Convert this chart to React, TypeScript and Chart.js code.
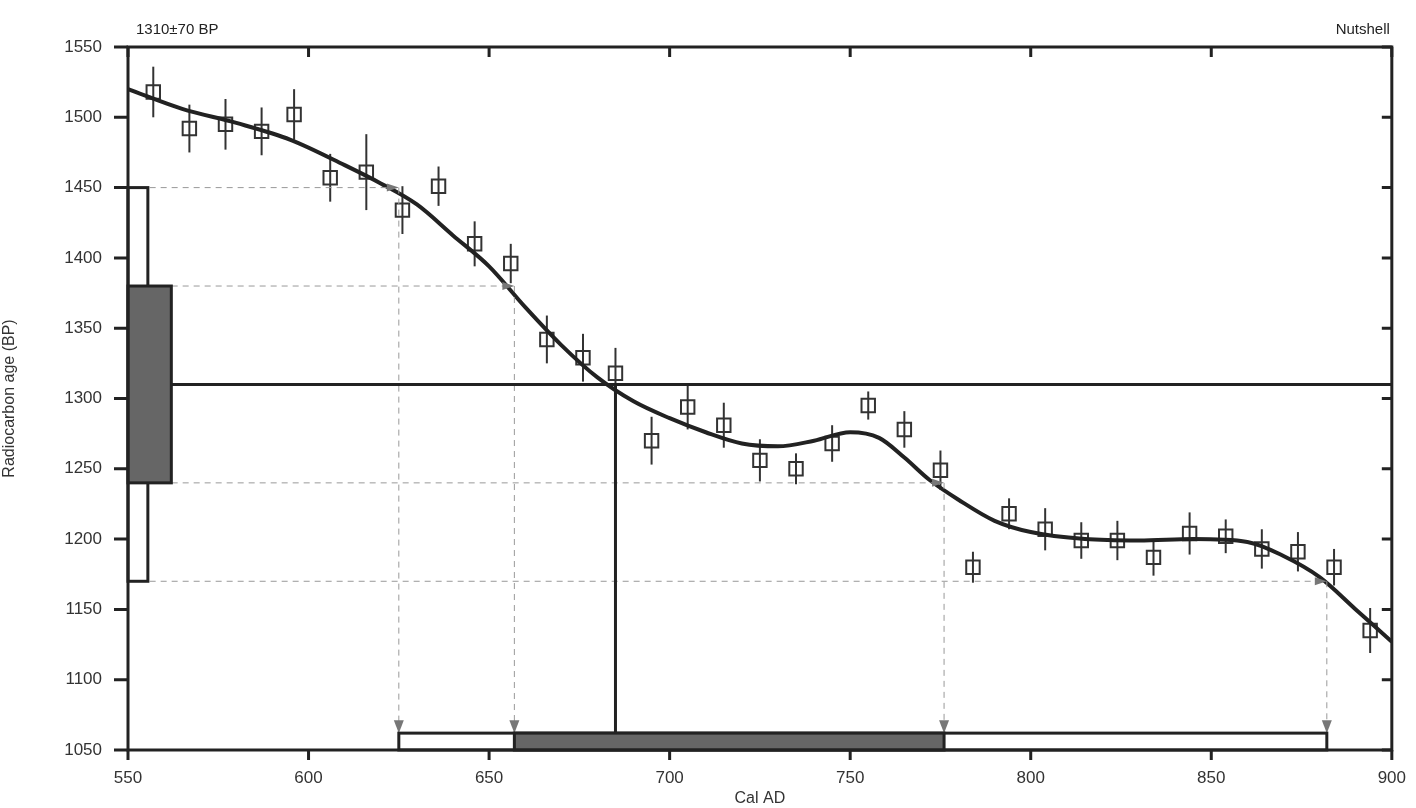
import { useEffect, useRef } from "react";
import { Chart, registerables } from "chart.js";

Chart.register(...registerables);

// measured dates (cal AD) with radiocarbon age and 1-sigma error
const sampleYears = [557, 567, 577, 587, 596, 606, 616, 626, 636, 646, 656, 666, 676, 685, 695, 705, 715, 725, 735, 745, 755, 765, 775, 784, 794, 804, 814, 824, 834, 844, 854, 864, 874, 884, 894];
const sampleAges = [1518, 1492, 1495, 1490, 1502, 1457, 1461, 1434, 1451, 1410, 1396, 1342, 1329, 1318, 1270, 1294, 1281, 1256, 1250, 1268, 1295, 1278, 1249, 1180, 1218, 1207, 1199, 1199, 1187, 1204, 1202, 1193, 1191, 1180, 1135];
const sampleErrors = [18, 17, 18, 17, 18, 17, 27, 17, 14, 16, 14, 17, 17, 18, 17, 16, 16, 15, 11, 13, 10, 13, 14, 11, 11, 15, 13, 14, 13, 15, 12, 14, 14, 13, 16];

// calibration curve
const curveYears = [550, 565, 580, 595, 610, 620, 630, 640, 650, 660, 670, 680, 690, 700, 710, 720, 730, 740, 750, 758, 765, 772, 780, 790, 800, 815, 830, 845, 860, 870, 880, 890, 900];
const curveAges = [1520, 1506, 1496, 1484, 1466, 1453, 1438, 1416, 1394, 1365, 1338, 1315, 1298, 1286, 1276, 1268, 1266, 1270, 1276, 1272, 1258, 1242, 1228, 1213, 1205, 1200, 1199, 1200, 1198, 1188, 1173, 1150, 1127];

const measuredAge = 1310;
const measuredYear = 685;
const sigma1 = [1240, 1380];
const sigma2 = [1170, 1450];
const calib1 = [657, 776];
const calib2 = [625, 882];
const arrowHits = [
  { age: 1450, year: 625 },
  { age: 1380, year: 657 },
  { age: 1240, year: 776 },
  { age: 1170, year: 882 },
];

const overlay = {
  id: "overlay",
  afterDatasetsDraw(chart: Chart) {
    const { ctx, chartArea: a } = chart;
    const x = chart.scales.x;
    const y = chart.scales.y;
    const X = (v: number) => x.getPixelForValue(v);
    const Y = (v: number) => y.getPixelForValue(v);
    ctx.save();
    // dashed guide arrows
    ctx.setLineDash([6, 5]);
    ctx.lineWidth = 1;
    ctx.strokeStyle = "#999";
    const bottomBarTop = Y(1062);
    arrowHits.forEach((h) => {
      ctx.beginPath();
      ctx.moveTo(X(556), Y(h.age));
      ctx.lineTo(X(h.year) - 8, Y(h.age));
      ctx.moveTo(X(h.year), Y(h.age));
      ctx.lineTo(X(h.year), bottomBarTop - 10);
      ctx.stroke();
    });
    ctx.setLineDash([]);
    ctx.fillStyle = "#777";
    arrowHits.forEach((h) => {
      const ax = X(h.year);
      const ay = Y(h.age);
      ctx.beginPath();
      ctx.moveTo(ax, ay);
      ctx.lineTo(ax - 12, ay - 4);
      ctx.lineTo(ax - 12, ay + 4);
      ctx.fill();
      ctx.beginPath();
      ctx.moveTo(ax, bottomBarTop);
      ctx.lineTo(ax - 5, bottomBarTop - 13);
      ctx.lineTo(ax + 5, bottomBarTop - 13);
      ctx.fill();
    });
    // measured age line and projection
    ctx.strokeStyle = "#222";
    ctx.lineWidth = 3;
    ctx.beginPath();
    ctx.moveTo(X(562), Y(measuredAge));
    ctx.lineTo(a.right, Y(measuredAge));
    ctx.moveTo(X(measuredYear), Y(measuredAge));
    ctx.lineTo(X(measuredYear), bottomBarTop);
    ctx.stroke();
    // sigma boxes on age axis
    ctx.fillStyle = "#fff";
    ctx.fillRect(X(550), Y(sigma2[1]), X(555.5) - X(550), Y(sigma2[0]) - Y(sigma2[1]));
    ctx.strokeRect(X(550), Y(sigma2[1]), X(555.5) - X(550), Y(sigma2[0]) - Y(sigma2[1]));
    ctx.fillStyle = "#666";
    ctx.fillRect(X(550), Y(sigma1[1]), X(562) - X(550), Y(sigma1[0]) - Y(sigma1[1]));
    ctx.strokeRect(X(550), Y(sigma1[1]), X(562) - X(550), Y(sigma1[0]) - Y(sigma1[1]));
    // calibrated ranges
    ctx.fillStyle = "#fff";
    ctx.fillRect(X(calib2[0]), bottomBarTop, X(calib2[1]) - X(calib2[0]), Y(1050) - bottomBarTop);
    ctx.strokeRect(X(calib2[0]), bottomBarTop, X(calib2[1]) - X(calib2[0]), Y(1050) - bottomBarTop);
    ctx.fillStyle = "#666";
    ctx.fillRect(X(calib1[0]), bottomBarTop, X(calib1[1]) - X(calib1[0]), Y(1050) - bottomBarTop);
    ctx.strokeRect(X(calib1[0]), bottomBarTop, X(calib1[1]) - X(calib1[0]), Y(1050) - bottomBarTop);
    // frame and ticks
    ctx.strokeRect(a.left, a.top, a.right - a.left, a.bottom - a.top);
    for (let v = 1050; v <= 1550; v += 50) {
      const py = Y(v);
      ctx.beginPath();
      ctx.moveTo(a.left - 14, py);
      ctx.lineTo(a.left, py);
      ctx.moveTo(a.right - 10, py);
      ctx.lineTo(a.right, py);
      ctx.stroke();
    }
    for (let v = 550; v <= 900; v += 50) {
      const px = X(v);
      ctx.beginPath();
      ctx.moveTo(px, a.bottom);
      ctx.lineTo(px, a.bottom + 10);
      ctx.moveTo(px, a.top);
      ctx.lineTo(px, a.top + 10);
      ctx.stroke();
    }
    // corner labels
    ctx.fillStyle = "#222";
    ctx.font = "15px Arial, 'Liberation Sans', sans-serif";
    ctx.textBaseline = "bottom";
    ctx.textAlign = "left";
    ctx.fillText("1310±70 BP", a.left + 8, a.top - 10);
    ctx.textAlign = "right";
    ctx.fillText("Nutshell", a.right - 2, a.top - 10);
    ctx.restore();
  },
  // error bars drawn under the square markers
  beforeDatasetDraw(chart: Chart, args: any) {
    if (args.index !== 1) return;
    const { ctx } = chart;
    const X = (v: number) => chart.scales.x.getPixelForValue(v);
    const Y = (v: number) => chart.scales.y.getPixelForValue(v);
    ctx.save();
    ctx.strokeStyle = "#333";
    ctx.lineWidth = 2;
    sampleYears.forEach((yr, i) => {
      ctx.beginPath();
      ctx.moveTo(X(yr), Y(sampleAges[i] + sampleErrors[i]));
      ctx.lineTo(X(yr), Y(sampleAges[i] - sampleErrors[i]));
      ctx.stroke();
    });
    ctx.restore();
  },
};

const App = () => {
  const canvasRef = useRef<HTMLCanvasElement>(null);
  const chartRef = useRef<Chart | null>(null);

  useEffect(() => {
    if (!canvasRef.current) return;
    if (chartRef.current) chartRef.current.destroy();
    const font = { family: "Arial, 'Liberation Sans', sans-serif", size: 17 };

    chartRef.current = new Chart(canvasRef.current, {
      type: "scatter",
      data: {
        datasets: [
          {
            type: "line",
            data: curveYears.map((x, i) => ({ x, y: curveAges[i] })),
            borderColor: "#222",
            borderWidth: 4,
            pointRadius: 0,
            cubicInterpolationMode: "monotone",
          },
          {
            data: sampleYears.map((x, i) => ({ x, y: sampleAges[i] })),
            pointStyle: "rect",
            pointRadius: 9.5,
            backgroundColor: "rgba(255,255,255,0)",
            borderColor: "#333",
            borderWidth: 2,
          },
        ],
      },
      options: {
        animation: false,
        responsive: false,
        layout: { padding: { top: 47, right: 21, left: 0, bottom: 0 } },
        plugins: { legend: { display: false }, tooltip: { enabled: false } },
        scales: {
          x: {
            type: "linear",
            min: 550,
            max: 900,
            grid: { display: false },
            border: { display: false },
            ticks: { stepSize: 50, color: "#333", font, padding: 10, callback: (v: any) => String(v) },
            title: { display: true, text: "Cal AD", color: "#333", font: { ...font, size: 16 }, padding: { top: -4, bottom: 0 } },
            afterFit: (s: any) => { s.height = 58; },
          },
          y: {
            min: 1050,
            max: 1550,
            grid: { display: false },
            border: { display: false },
            ticks: { stepSize: 50, color: "#333", font, padding: 18, callback: (v: any) => String(v) },
            title: { display: true, text: "Radiocarbon age (BP)", color: "#333", font: { ...font, size: 16 }, padding: { top: 0, bottom: 6 } },
            afterFit: (s: any) => { s.width = 128; },
          },
        },
      },
      plugins: [overlay],
    });

    return () => {
      if (chartRef.current) chartRef.current.destroy();
    };
  }, []);

  return (
    <div style={{ position: "fixed", left: 0, top: 0, width: 1416, height: 808, background: "#fff" }}>
      <canvas ref={canvasRef} width={1416} height={808} />
    </div>
  );
};

export default App;
